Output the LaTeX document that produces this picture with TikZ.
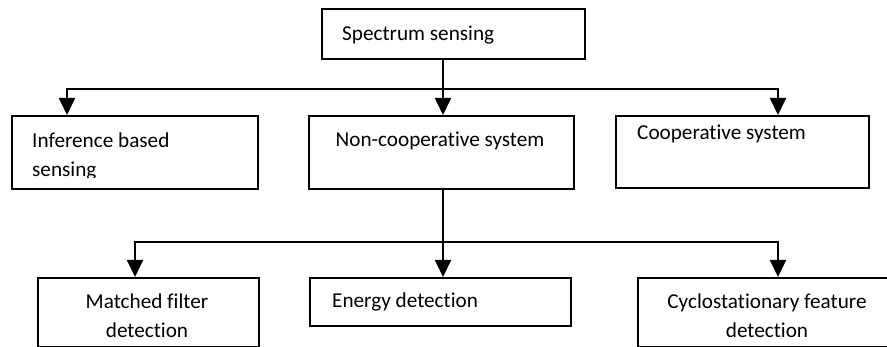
\documentclass[tikz,border=0pt]{standalone}
\usepackage{fontspec}
\setmainfont{Carlito}[Ligatures=NoCommon]
\usetikzlibrary{arrows.meta,positioning}
\tikzset{
	box/.style={draw, line width=1.9pt, anchor=north west, inner sep=0pt},
	lbl/.style={font=\fontsize{21.2}{29}\selectfont, inner sep=0pt},
	arr/.style={line width=1.8pt, -{Triangle[length=17pt,width=16pt]}}
}

\begin{document}
\begin{tikzpicture}[x=1pt,y=-1pt]
	\useasboundingbox (0,0) rectangle (887,347);
	\clip (0,0) rectangle (887,347);

	% boxes
	\node[box, minimum width=263, minimum height=50] (sens) at (321,8) {};
	\node[box, minimum width=246, minimum height=73] (inf) at (11,115) {};
	\node[box, minimum width=265, minimum height=73] (nc) at (308,115) {};
	\node[box, minimum width=253, minimum height=72] (coop) at (615,115) {};
	\node[box, minimum width=221, minimum height=69] (match) at (37,277) {};
	\node[box, minimum width=261, minimum height=48] (energy) at (309,277) {};
	\node[box, minimum width=261, minimum height=69] (cyclo) at (637,277) {};

	% texts (base anchor of a two-line label sits on its last line)
	\node[lbl, anchor=base west] (senstxt) at (342,41) {Spectrum sensing};
	\begin{scope}
		\clip (0,0) rectangle (887,178);
		\node[lbl, anchor=base west, align=left] (inftxt) at (32,177) {Inference based\\sensing};
	\end{scope}
	\node[lbl, anchor=base] (nctxt) at (440,147) {Non-cooperative system};
	\node[lbl, anchor=base west] (cooptxt) at (637,140) {Cooperative system};
	\node[lbl, anchor=base, align=center] (matchtxt) at (147,338) {Matched filter\\detection};
	\node[lbl, anchor=base west] (energytxt) at (332,308) {Energy detection};
	\node[lbl, anchor=base, align=center] (cyclotxt) at (767,338) {Cyclostationary feature\\detection};

	% connectors
	\coordinate (hubA) at (443,89);
	\coordinate (hubB) at (443,242);
	\draw[arr] (sens.south -| hubA) -- (nc.north -| hubA);
	\draw[arr] (hubA) -| (inf.north -| 67,0);
	\draw[arr] (hubA) -| (coop.north -| 778,0);
	\draw[arr] (nc.south -| hubB) -- (energy.north -| hubB);
	\draw[arr] (hubB) -| (match.north -| 135,0);
	\draw[arr] (hubB) -| (cyclo.north -| 778,0);
\end{tikzpicture}
\end{document}
